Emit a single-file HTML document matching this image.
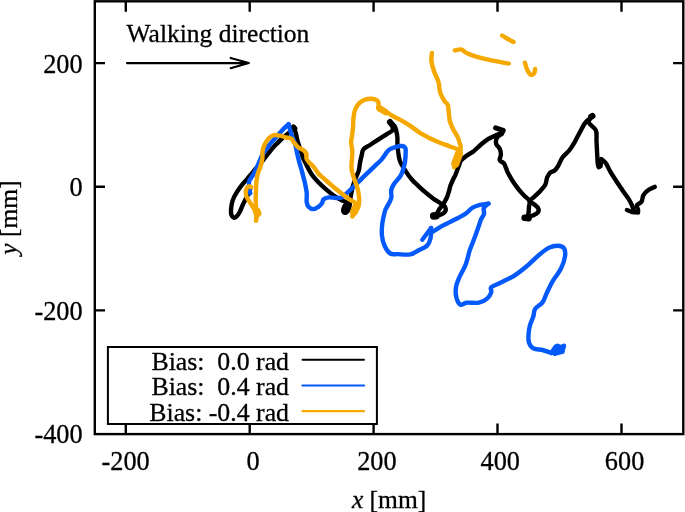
<!DOCTYPE html>
<html><head><meta charset="utf-8">
<style>
html,body{margin:0;padding:0;background:#fff;}
svg{display:block;}
text{font-family:"Liberation Serif",serif;font-size:25.5px;fill:#000;white-space:pre;stroke:#000;stroke-width:0.3px;}
.t text{font-size:26.3px;}
.lg text{font-size:25.8px;}
.ax{stroke:#000;stroke-width:2.4;fill:none;}
.c{fill:none;stroke-width:4.4;stroke-linecap:round;stroke-linejoin:round;}
</style></head><body>
<svg width="685" height="512" viewBox="0 0 685 512">
<rect width="685" height="512" fill="#fff"/>
<!-- frame -->
<rect class="ax" x="94.8" y="1.3" width="588.5" height="432.8"/>
<!-- ticks -->
<g class="ax" id="ticks">
<path d="M125.8 434.1v-10.5M249.7 434.1v-10.5M373.6 434.1v-10.5M497.5 434.1v-10.5M621.5 434.1v-10.5"/>
<path d="M125.8 1.3v10.5M249.7 1.3v10.5M373.6 1.3v10.5M497.5 1.3v10.5M621.5 1.3v10.5"/>
<path d="M94.8 63.1h10.2M94.8 186.7h10.2M94.8 310.4h10.2"/>
<path d="M683.3 63.1h-10.2M683.3 186.7h-10.2M683.3 310.4h-10.2"/>
</g>
<!-- tick labels -->
<g text-anchor="end" class="t">
<text x="82.6" y="72.5">200</text>
<text x="82.6" y="196">0</text>
<text x="82.6" y="319.6">-200</text>
<text x="82.6" y="443.2">-400</text>
</g>
<g text-anchor="middle" class="t">
<text x="125.6" y="470">-200</text>
<text x="253" y="470">0</text>
<text x="376.9" y="470">200</text>
<text x="500.3" y="470">400</text>
<text x="624.6" y="470">600</text>
</g>
<g text-anchor="middle">
<text x="389.1" y="507.8"><tspan font-style="italic">x</tspan> [mm]</text>
<text transform="translate(17.2,217.5) rotate(-90)"><tspan font-style="italic">y</tspan> [mm]</text>
</g>
<text x="126.6" y="42.2">Walking direction</text>
<path d="M127 63.1H248.6M230.6 57.9L248.8 63.1L230.6 68.3" stroke="#000" stroke-width="2.1" fill="none" stroke-linejoin="round" stroke-linecap="round"/>
<!-- legend -->
<rect x="107.9" y="347" width="269" height="77" fill="#fff" stroke="#000" stroke-width="2"/>
<g text-anchor="end" class="lg">
<text x="289" y="369.6">Bias:  0.0 rad</text>
<text x="289" y="395.3">Bias:  0.4 rad</text>
<text x="289" y="420.6">Bias: -0.4 rad</text>
</g>
<path d="M302.5 359.8H364" stroke="#000" stroke-width="1.9" stroke-linecap="round"/>
<path d="M302.5 385.5H364" stroke="#0459fb" stroke-width="2.2" stroke-linecap="round"/>
<path d="M302.5 411.2H364" stroke="#f5a800" stroke-width="2.2" stroke-linecap="round"/>
<!-- curves -->
<g id="curves" transform="translate(0,0.8)">
<g class="c" stroke="#000">
<path d="M250.8 186.4C250.4 187.5 249.2 191.0 248.4 192.8C247.6 194.7 247.1 195.6 246.1 197.5C245.1 199.4 243.7 202.2 242.6 204.5C241.5 206.8 240.6 209.7 239.6 211.5C238.6 213.3 237.7 214.7 236.7 215.6C235.7 216.5 234.7 217.1 233.8 216.8C232.9 216.5 231.9 215.4 231.4 213.9C230.9 212.4 230.9 210.3 231.1 208.0C231.3 205.7 231.7 202.5 232.6 199.8C233.5 197.1 235.0 194.3 236.7 191.6C238.4 188.9 240.4 186.1 242.6 183.4C244.8 180.7 247.3 177.9 249.6 175.2C251.9 172.5 254.8 169.0 256.6 167.0C258.4 165.0 258.2 165.4 260.2 163.0C262.2 160.6 265.9 155.6 268.4 152.5C270.9 149.4 273.0 146.9 275.4 144.3C277.8 141.8 280.4 139.1 282.5 137.2C284.6 135.2 286.8 133.9 288.3 132.6C289.9 131.2 290.9 130.1 291.8 129.1C292.7 128.1 293.5 127.1 293.9 126.7"/>
<path d="M293.4 126.4L294.6 127.6" stroke-width="5.5"/>
<path d="M293.9 126.7C294.2 127.7 295.4 130.7 295.9 132.6C296.4 134.5 296.6 136.4 297.1 138.4C297.6 140.4 298.2 142.2 298.9 144.3C299.6 146.5 300.5 149.2 301.2 151.3C301.9 153.5 302.2 155.2 303.0 157.2C303.8 159.1 304.5 160.3 305.9 163.0C307.3 165.7 309.3 170.1 311.4 173.2C313.5 176.3 315.9 178.8 318.4 181.4C320.9 184.0 323.9 186.7 326.6 189.0C329.3 191.3 332.3 193.7 334.8 195.4C337.3 197.2 339.9 198.4 341.8 199.5C343.8 200.6 345.9 200.8 346.5 201.9C347.1 203.0 345.9 204.3 345.6 206.0C345.3 207.7 344.9 210.8 344.8 211.8"/>
<path d="M346.5 203.0C346.1 203.6 344.7 205.2 344.2 206.5C343.7 207.8 343.3 209.7 343.6 210.5C343.9 211.3 345.2 211.8 346.0 211.5C346.8 211.2 347.9 209.8 348.5 208.5C349.1 207.2 349.3 204.8 349.5 204.0" stroke-width="5"/>
<path d="M348.5 207.0C348.8 205.8 349.6 202.4 350.0 200.1C350.4 197.8 350.7 195.6 351.2 193.1C351.7 190.6 352.2 187.6 353.0 184.9C353.8 182.2 354.9 179.2 355.9 176.7C356.9 174.2 358.1 172.1 358.8 169.7C359.5 167.2 359.5 164.6 360.0 162.0C360.5 159.4 361.2 156.2 361.8 154.0C362.4 151.8 362.0 150.2 363.4 148.5C364.8 146.8 367.9 145.6 370.4 143.9C372.9 142.2 375.9 140.4 378.6 138.6C381.3 136.8 384.5 134.9 386.8 133.3C389.1 131.7 391.9 130.8 392.7 129.2C393.5 127.6 392.0 125.4 391.5 124.0C391.0 122.6 390.1 121.5 389.8 121.0"/>
<path d="M389.9 121.2L391.2 122.8" stroke-width="6"/>
<path d="M389.8 121.0C390.6 121.7 393.3 123.6 394.4 125.1C395.5 126.6 395.7 127.9 396.2 129.8C396.7 131.8 397.2 134.5 397.4 136.8C397.6 139.2 397.3 141.8 397.4 143.9C397.5 146.1 397.6 146.9 398.0 149.7C398.4 152.5 398.6 156.9 400.0 160.5C401.4 164.1 404.1 168.0 406.1 171.1C408.1 174.2 410.0 176.7 412.0 179.0C414.0 181.3 416.0 182.9 418.2 185.0C420.4 187.1 422.7 189.2 425.2 191.4C427.7 193.6 430.7 195.9 433.4 197.9C436.1 199.9 440.6 201.9 441.6 203.7C442.6 205.4 440.1 206.9 439.3 208.4C438.5 209.9 437.7 211.4 436.9 212.5C436.1 213.6 435.0 214.8 434.6 215.2"/>
<path d="M433.6 215.2L436.0 215.0" stroke-width="7.4"/>
<path d="M434.6 215.2C435.4 215.0 437.8 214.8 439.3 214.3C440.8 213.9 442.3 213.3 443.4 212.5C444.5 211.7 445.4 210.7 445.7 209.6C446.0 208.5 445.5 207.1 445.1 206.1C444.7 205.1 443.1 205.3 443.4 203.7C443.7 202.1 445.9 199.0 446.9 196.7C447.9 194.4 448.6 191.6 449.2 189.7C449.8 187.8 449.6 187.1 450.4 185.0C451.2 182.9 453.1 178.7 453.9 177.0C454.7 175.3 454.4 176.6 455.2 174.7C456.0 172.8 457.7 167.9 458.7 165.4C459.7 162.9 459.7 161.3 461.1 159.5C462.5 157.7 464.8 156.4 466.9 154.8C469.0 153.2 471.6 151.9 474.0 150.1C476.4 148.2 478.7 145.6 481.0 143.7C483.3 141.8 485.7 139.9 488.0 138.4C490.3 136.9 492.9 135.9 495.0 134.9C497.1 133.9 499.9 133.0 500.9 132.6"/>
<path d="M495.6 127.0L503.2 129.6L501.5 133.0" stroke-width="5"/>
<path d="M501.5 133.0C500.7 133.7 497.7 135.5 496.8 137.2C495.9 138.9 495.7 141.3 496.2 143.1C496.7 144.9 498.9 146.1 499.7 147.8C500.5 149.6 500.9 151.7 500.9 153.6C500.9 155.5 499.2 158.0 499.7 159.5C500.2 161.0 502.7 161.0 503.8 162.4C504.9 163.8 505.5 166.1 506.2 167.7C506.9 169.3 506.8 169.9 507.9 172.0C509.0 174.1 510.9 177.5 512.6 180.2C514.4 182.9 516.5 185.9 518.4 188.4C520.3 190.9 522.4 193.0 524.3 194.9C526.1 196.8 528.7 198.2 529.5 200.1C530.3 201.9 529.2 203.8 529.0 206.0C528.8 208.2 528.8 211.2 528.4 213.0C528.0 214.8 526.9 216.4 526.6 217.1"/>
<path d="M524.6 217.0L528.6 217.4" stroke-width="6.5"/>
<path d="M526.6 217.1C527.6 216.7 530.6 215.7 532.5 214.8C534.4 213.9 536.7 213.0 537.7 211.8C538.7 210.6 539.0 209.1 538.3 207.7C537.6 206.2 535.1 204.4 533.6 203.1C532.1 201.8 529.5 201.2 529.5 200.1C529.5 199.0 531.7 198.3 533.6 196.6C535.5 194.8 538.7 191.8 540.7 189.6C542.7 187.4 544.3 185.8 545.4 183.7C546.5 181.5 546.3 178.6 547.1 176.7C547.9 174.8 548.7 173.2 550.0 172.0C551.3 170.8 553.3 170.9 554.7 169.7C556.1 168.5 556.9 167.2 558.2 165.0C559.5 162.8 560.7 159.1 562.6 156.5C564.5 153.9 567.7 151.6 569.6 149.2C571.5 146.8 572.7 144.7 574.3 142.0C575.9 139.3 577.2 136.2 579.0 133.0C580.8 129.8 583.0 125.1 584.8 122.6C586.5 120.1 588.3 119.1 589.5 117.9C590.7 116.7 591.4 115.9 591.8 115.5"/>
<path d="M591.3 115.8L592.4 115.2" stroke-width="6.2"/>
<path d="M590.5 117.5C590.2 118.2 588.0 120.0 588.9 122.0C589.8 124.0 594.6 126.6 595.9 129.6C597.2 132.6 596.3 136.4 596.5 140.1C596.7 143.8 596.9 148.1 597.1 151.8C597.3 155.5 597.4 160.0 597.7 162.4C598.0 164.8 598.6 165.7 598.8 166.3"/>
<path d="M598.8 166.3L600.6 165.5L601.2 158.3L599.6 163.0"/>
<path d="M601.2 158.3C602.0 159.0 604.5 160.5 605.9 162.4C607.3 164.3 608.2 167.2 609.9 170.0C611.5 172.8 613.6 176.1 615.8 179.4C617.9 182.7 620.7 186.8 622.8 189.9C624.9 193.0 627.0 195.6 628.6 198.1C630.2 200.6 631.3 203.0 632.2 205.1C633.1 207.2 633.6 209.5 633.9 210.4"/>
<path d="M626.9 209.2C627.8 209.5 630.4 210.8 632.2 211.2C634.1 211.6 637.0 211.5 638.0 211.6" stroke-width="4.4"/>
<path d="M638.0 211.6C638.0 211.1 638.2 209.8 638.0 208.6C637.8 207.4 636.2 205.8 636.8 204.5C637.4 203.2 640.4 202.7 641.5 201.0C642.6 199.3 642.3 196.4 643.3 194.6C644.3 192.8 645.5 191.3 647.4 189.9C649.3 188.5 653.6 186.7 654.8 186.0"/>
</g>
<g class="c" stroke="#0459fb">
<path d="M250.2 192.5C250.0 190.6 248.5 184.2 249.0 181.1C249.5 178.0 251.6 176.9 253.1 174.1C254.6 171.3 256.3 167.6 257.9 164.2C259.5 160.8 260.9 156.7 262.6 153.6C264.4 150.5 266.3 148.1 268.4 145.4C270.5 142.7 273.0 139.9 275.4 137.2C277.8 134.5 280.3 131.4 282.5 129.1C284.7 126.8 287.6 124.4 288.6 123.4"/>
<path d="M288.6 123.4C288.9 124.4 289.5 127.0 290.1 129.1C290.7 131.2 291.5 133.6 292.4 136.1C293.3 138.6 294.6 141.6 295.4 144.3C296.2 147.0 296.4 149.6 297.1 152.5C297.8 155.4 298.6 158.9 299.4 161.8C300.2 164.7 301.2 167.8 301.8 170.0C302.4 172.2 302.5 172.6 303.0 174.7C303.5 176.8 304.4 179.7 305.0 182.6C305.6 185.5 306.4 188.8 306.7 191.9C307.0 195.0 306.4 199.0 306.7 201.3C307.0 203.7 307.4 204.8 308.5 206.0C309.6 207.2 311.5 208.3 313.1 208.3C314.8 208.3 316.9 207.0 318.4 206.0C319.9 205.0 321.0 203.8 321.9 202.5C322.8 201.2 322.5 199.4 323.7 198.4C324.9 197.4 326.9 196.8 329.0 196.6C331.1 196.4 333.9 197.2 336.0 197.2C338.1 197.2 340.1 197.4 341.8 196.6C343.6 195.8 344.7 194.1 346.5 192.5C348.3 190.9 350.4 189.0 352.4 187.2C354.3 185.3 356.0 183.5 358.2 181.4C360.4 179.3 362.5 177.1 365.3 174.4C368.1 171.7 372.3 167.6 375.0 165.0C377.7 162.4 379.2 161.4 381.5 158.8C383.8 156.2 386.2 151.5 388.6 149.4C391.0 147.3 393.3 146.9 395.6 146.2C397.9 145.5 400.6 145.0 402.2 145.2C403.8 145.4 404.8 146.0 405.4 147.3C406.0 148.6 405.6 151.1 405.6 153.0C405.6 154.9 405.4 157.2 405.2 159.0C405.0 160.8 405.1 161.5 404.4 164.1C403.7 166.7 402.6 171.4 400.8 174.6C399.0 177.8 395.4 180.9 393.8 183.4C392.2 185.9 391.6 187.2 391.2 189.5C390.8 191.8 391.9 194.7 391.2 197.5C390.5 200.3 387.9 204.0 386.8 206.2C385.8 208.4 385.6 207.7 384.9 210.5C384.1 213.3 382.8 218.7 382.3 222.8C381.8 226.9 381.6 231.3 382.0 235.1C382.4 238.9 383.5 242.8 384.9 245.7C386.3 248.6 388.0 251.4 390.2 252.7C392.4 254.0 394.7 253.2 398.1 253.3C401.5 253.5 406.9 254.3 410.4 253.6C413.9 252.9 416.4 250.7 419.2 249.2C422.0 247.7 425.2 246.7 427.1 244.8C429.0 242.9 429.8 240.6 430.5 237.7C431.2 234.8 431.0 228.9 431.1 227.2"/>
<path d="M422.3 238.9L431.1 227.2"/>
<path d="M432.2 231.3C433.6 230.4 437.5 227.7 440.4 226.0C443.3 224.3 446.7 222.9 449.8 221.3C452.9 219.7 456.5 218.1 459.2 216.6C461.9 215.1 464.0 214.1 466.2 212.5C468.4 210.9 470.2 208.5 472.1 207.2C474.1 205.9 475.9 205.3 477.9 204.7C479.8 204.1 482.0 203.8 483.8 203.5C485.6 203.2 487.7 202.9 488.5 202.8"/>
<path d="M488.5 202.8C487.7 203.5 484.6 205.5 483.8 207.2C483.1 208.9 484.5 211.1 484.0 213.1C483.5 215.1 481.7 216.8 480.8 219.0C479.9 221.2 479.4 223.5 478.5 226.0C477.6 228.5 476.7 231.3 475.6 234.2C474.5 237.1 473.1 240.9 472.1 243.5C471.1 246.1 470.8 246.2 469.7 249.6C468.6 253.0 467.3 259.5 465.6 263.9C463.9 268.3 461.1 272.4 459.5 276.2C457.9 280.0 456.5 283.1 456.0 286.5C455.5 289.9 455.6 293.8 456.4 296.7C457.1 299.6 458.8 303.0 460.5 303.9C462.2 304.8 463.5 302.2 466.6 301.9C469.7 301.6 475.5 302.6 478.9 301.9C482.3 301.2 485.1 299.5 487.1 297.8C489.2 296.1 490.5 293.5 491.2 291.6C491.9 289.7 489.8 288.0 491.2 286.5C492.6 285.0 495.6 284.3 499.4 282.4C503.2 280.5 509.3 277.9 513.8 275.2C518.2 272.5 522.0 269.4 526.1 266.0C530.2 262.6 534.6 257.8 538.4 254.7C542.1 251.5 545.4 248.7 548.6 247.1C551.9 245.5 555.3 244.8 557.9 244.9C560.5 245.0 562.8 245.7 564.0 247.5C565.2 249.3 565.5 252.3 565.0 255.7C564.5 259.1 562.9 263.9 560.9 268.0C558.9 272.1 555.1 276.2 552.7 280.3C550.3 284.4 548.3 289.1 546.6 292.6C544.9 296.2 544.4 299.0 542.5 301.6C540.6 304.2 536.6 305.9 535.1 308.2C533.6 310.5 534.2 312.8 533.4 315.5C532.5 318.2 530.8 321.4 530.0 324.3C529.2 327.2 528.8 330.2 528.6 333.1C528.4 336.0 528.1 339.5 529.0 341.9C529.9 344.3 531.5 346.5 533.7 347.7C536.0 348.9 539.6 348.5 542.5 349.2C545.4 349.9 549.8 351.6 551.2 352.1"/>
<path d="M551.2 352.1L555.5 346.0L557.5 345.0L560.6 346.5L564.0 345.0L563.0 348.5L562.5 351.0L559.0 351.8L554.5 353.0L557.0 349.0L561.0 349.0"/>
</g>
<g class="c" stroke="#f5a800">
<path d="M251.3 186.3C250.9 186.2 249.8 185.3 249.0 185.5C248.2 185.7 247.2 186.5 246.7 187.5C246.2 188.5 245.8 190.1 245.8 191.6C245.8 193.1 246.1 194.7 246.7 196.3C247.3 197.9 248.6 199.4 249.6 201.0C250.6 202.6 251.6 204.3 252.5 205.7C253.4 207.1 254.1 208.2 254.9 209.2C255.7 210.2 257.0 209.8 257.2 211.5C257.4 213.2 256.2 218.3 256.0 219.7"/>
<path d="M256.8 210.5L257.4 212.5" stroke-width="8"/>
<path d="M256.0 219.7C256.2 218.4 257.0 214.2 257.0 212.0C257.0 209.8 256.2 209.0 256.0 206.8C255.8 204.6 255.7 201.5 255.7 198.6C255.7 195.7 255.9 192.2 256.0 189.3C256.1 186.4 256.1 183.8 256.4 181.1C256.7 178.4 257.2 175.3 257.8 172.9C258.4 170.5 259.4 168.9 260.2 166.5C260.9 164.1 261.9 161.0 262.3 158.3C262.7 155.6 262.2 152.6 262.6 150.1C263.0 147.6 263.8 145.2 264.9 143.1C266.0 140.9 267.5 138.7 269.0 137.2C270.5 135.7 271.8 134.7 273.7 134.3C275.6 133.9 278.1 134.5 280.1 134.9C282.2 135.3 284.1 136.2 286.0 136.7C287.9 137.2 290.0 137.0 291.3 137.8C292.6 138.6 292.5 139.9 293.6 141.3C294.7 142.7 296.1 144.6 297.7 146.0C299.3 147.4 302.0 148.3 303.5 149.5C305.0 150.7 306.0 151.7 306.5 153.1C307.0 154.5 306.1 156.3 306.5 157.7C306.9 159.1 307.5 159.8 308.8 161.3C310.1 162.8 312.5 164.6 314.1 166.5C315.7 168.4 316.3 170.3 318.4 172.6C320.5 174.9 323.9 177.8 326.6 180.2C329.3 182.6 332.1 184.9 334.8 187.2C337.5 189.4 340.5 191.7 343.0 193.7C345.5 195.7 347.9 197.5 350.0 199.0C352.1 200.5 355.0 200.8 355.9 202.5C356.8 204.2 355.9 207.3 355.3 209.5C354.7 211.7 352.9 214.4 352.4 215.4"/>
<path d="M356.6 205.5L354.0 211.0" stroke-width="8"/>
<path d="M352.4 215.4C353.5 213.4 357.7 207.1 358.8 203.6C359.9 200.1 359.1 197.2 358.8 194.3C358.5 191.4 357.9 188.8 357.1 186.1C356.3 183.4 354.9 180.4 354.1 177.9C353.3 175.4 352.6 173.1 352.1 170.9C351.7 168.8 351.4 167.3 351.4 165.0C351.4 162.7 351.9 159.6 352.0 157.0C352.1 154.4 352.4 152.3 352.3 149.7C352.2 147.1 351.1 144.2 351.1 141.5C351.1 138.8 352.0 136.0 352.3 133.3C352.6 130.6 352.9 127.8 353.1 125.1C353.3 122.4 353.1 119.6 353.5 116.9C353.9 114.2 354.2 111.1 355.2 108.7C356.2 106.3 357.6 104.0 359.3 102.3C361.0 100.6 363.1 99.5 365.2 98.8C367.2 98.1 369.6 97.8 371.6 98.0C373.7 98.2 376.3 99.1 377.5 100.0C378.7 100.9 378.5 102.3 378.6 103.5C378.7 104.7 378.2 106.4 378.1 107.0"/>
<path d="M379.5 107.5L385.5 111.2" stroke-width="6.5"/>
<path d="M379.2 108.7C380.5 109.2 384.6 110.6 386.8 111.7C389.1 112.8 390.4 113.9 392.7 115.2C395.0 116.5 398.0 117.7 400.9 119.3C403.8 120.9 407.1 123.0 410.3 125.1C413.5 127.2 416.4 129.8 420.0 132.0C423.6 134.2 428.7 136.8 432.0 138.5C435.3 140.2 437.1 140.8 440.0 141.9C442.9 143.1 446.5 144.3 449.4 145.4C452.3 146.5 455.8 147.8 457.6 148.4C459.5 149.0 460.0 148.9 460.5 149.0"/>
<path d="M459.0 153.0L455.3 163.0" stroke-width="8.3"/>
<path d="M454.1 166.5C455.2 163.6 459.5 152.9 460.5 149.0C461.5 145.1 460.4 145.2 459.9 143.1C459.4 140.9 458.7 138.4 457.6 136.1C456.5 133.8 454.8 131.6 453.5 129.1C452.2 126.6 450.7 123.2 450.0 120.9C449.3 118.6 449.5 117.8 449.1 115.0C448.7 112.2 448.6 106.9 447.8 104.4C447.0 101.9 445.6 102.1 444.3 100.0C443.0 97.9 441.2 94.9 440.2 91.8C439.2 88.7 439.5 84.7 438.5 81.2C437.5 77.7 435.3 74.2 434.1 70.7C432.9 67.2 431.8 63.2 431.4 60.1C431.0 57.0 431.9 53.5 432.0 52.2"/>
<path d="M454.8 49.6C455.9 49.5 459.3 48.3 461.3 48.7C463.3 49.1 464.1 51.0 466.6 52.2C469.1 53.4 472.2 54.6 476.2 55.8C480.1 57.0 484.9 58.1 490.3 59.3C495.7 60.5 505.7 62.2 508.8 62.8"/>
<path d="M502.2 34.7C503.1 35.3 506.0 37.1 507.9 38.2C509.8 39.3 512.6 40.7 513.5 41.2"/>
<path d="M524.9 61.9C525.3 63.1 526.2 66.9 527.2 68.9C528.2 70.9 529.5 73.3 530.7 73.9C531.9 74.5 533.5 73.5 534.2 72.5C534.9 71.5 535.0 68.8 535.1 68.1"/>
</g>
</g>
</svg>
</body></html>
